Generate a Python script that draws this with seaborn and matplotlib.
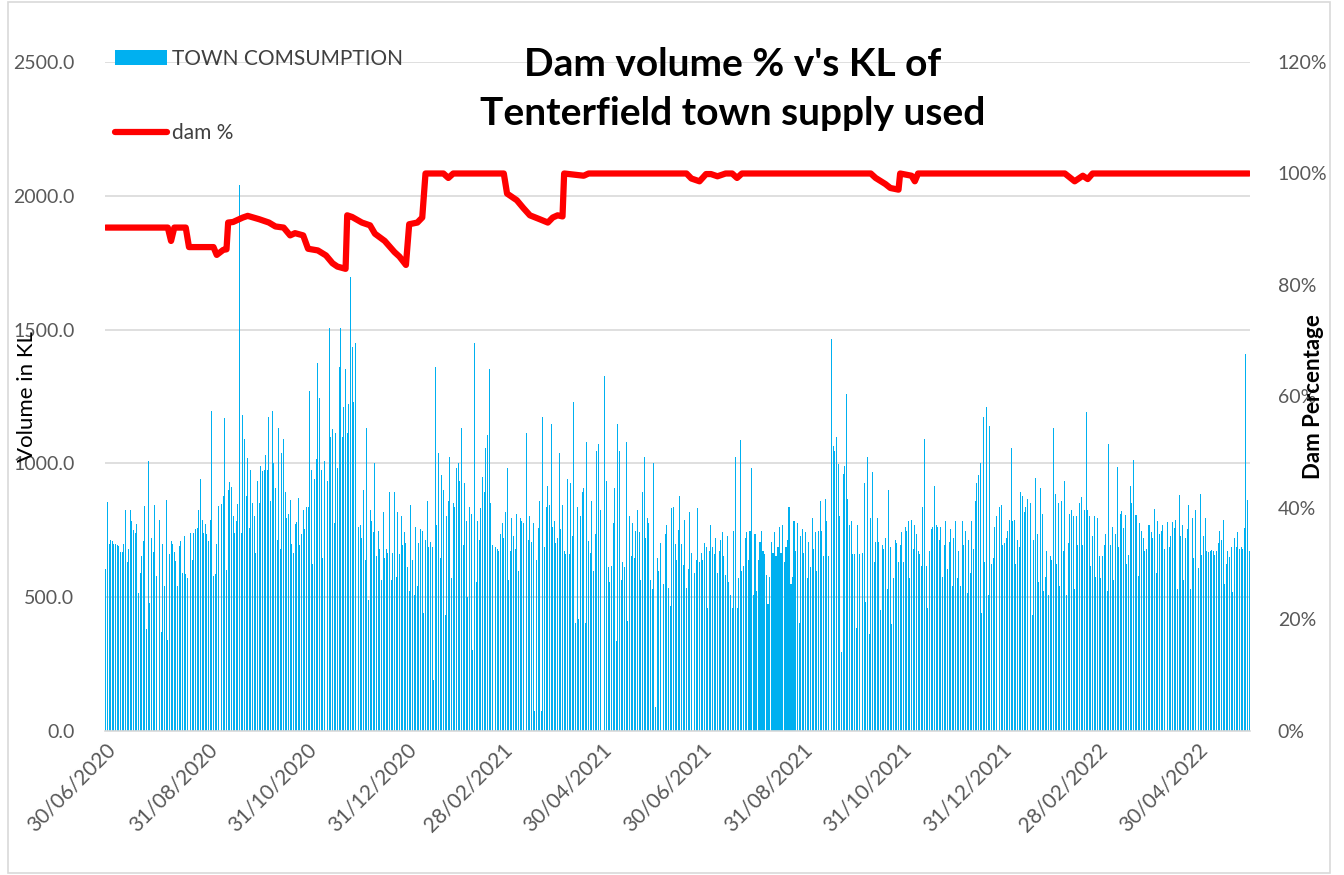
import numpy as np
import pandas as pd
import seaborn as sns
import matplotlib.pyplot as plt
from matplotlib.patches import Rectangle

# =========================
# DATA
# =========================

START_DATE = "30/06/2020"

# Daily town consumption in KL, in blocks of about 89 days each
cons_jul_sep_2020 = [
    605, 855, 700, 715, 710, 700, 700, 695, 690, 670,
    670, 700, 825, 630, 680, 825, 785, 750, 740, 775,
    515, 590, 655, 710, 840, 380, 1010, 480, 720, 670,
    845, 580, 880, 790, 370, 700, 540, 865, 340, 660,
    710, 700, 670, 635, 540, 690, 710, 590, 730, 585,
    570, 740, 740, 640, 740, 755, 760, 825, 940, 790,
    740, 775, 735, 710, 790, 1195, 580, 585, 700, 840,
    890, 850, 880, 1170, 600, 900, 930, 910, 805, 740,
    785, 850, 2040, 740, 1180, 1090, 880, 1020, 760,
]
cons_sep_dec_2020 = [
    976, 852, 805, 667, 935, 852, 990, 970, 976, 1031,
    976, 1175, 860, 1196, 1003, 907, 715, 1134, 680, 1038,
    1093, 893, 797, 810, 865, 700, 665, 775, 782, 871,
    694, 735, 825, 756, 838, 838, 1271, 976, 625, 942,
    1018, 1375, 1244, 976, 646, 1010, 997, 935, 1505, 1100,
    1127, 777, 1114, 983, 1361, 1505, 1100, 1210, 1354, 1114,
    1223, 1698, 1436, 1230, 1450, 893, 763, 770, 722, 900,
    640, 1134, 488, 825, 783, 742, 1003, 653, 749, 680,
    563, 818, 646, 680, 667, 893, 563, 667, 893,
]
cons_dec_2020_mar_2021 = [
    577, 818, 660, 804, 694, 742, 701, 612, 522, 845,
    639, 509, 763, 543, 701, 756, 749, 440, 715, 859,
    687, 708, 687, 192, 1361, 770, 1038, 646, 955, 900,
    433, 804, 859, 1024, 570, 852, 838, 983, 1003, 935,
    1134, 694, 928, 784, 502, 838, 811, 302, 1450, 557,
    784, 715, 832, 948, 893, 1058, 1107, 1354, 852, 694,
    646, 687, 680, 673, 735, 777, 722, 818, 983, 564,
    673, 797, 729, 680, 811, 598, 797, 784, 777, 371,
    1113, 715, 804, 708, 777, 76, 640, 760, 860,
]
cons_mar_jun_2021 = [
    76, 1175, 687, 838, 914, 845, 1148, 763, 784, 701,
    722, 1038, 756, 845, 673, 660, 942, 660, 928, 729,
    1230, 405, 838, 419, 804, 893, 907, 405, 1079, 709,
    667, 859, 598, 735, 1045, 1072, 825, 0, 0, 1327,
    935, 612, 557, 618, 777, 907, 337, 1148, 1045, 564,
    632, 612, 1079, 412, 804, 653, 777, 646, 749, 825,
    742, 564, 893, 1024, 722, 797, 777, 564, 529, 1003,
    89, 646, 598, 701, 694, 550, 735, 770, 536, 467,
    832, 838, 700, 640, 750, 880, 700, 620, 790,
]
cons_jun_sep_2021 = [
    536, 605, 818, 667, 474, 591, 639, 832, 632, 667,
    639, 701, 687, 460, 673, 770, 687, 660, 722, 591,
    673, 715, 742, 653, 584, 729, 557, 509, 460, 749,
    1024, 460, 570, 1086, 598, 618, 722, 742, 639, 749,
    983, 509, 735, 522, 639, 708, 749, 673, 660, 584,
    474, 577, 708, 667, 742, 653, 687, 763, 667, 770,
    632, 687, 715, 838, 550, 577, 784, 673, 777, 405,
    729, 756, 667, 742, 570, 708, 612, 797, 680, 742,
    598, 749, 859, 749, 653, 866, 784, 653, 708,
]
cons_sep_dec_2021 = [
    1464, 1065, 1045, 1100, 997, 804, 296, 962, 990, 1258,
    866, 770, 784, 660, 660, 385, 770, 660, 1052, 667,
    928, 481, 1024, 364, 797, 969, 632, 708, 797, 708,
    454, 694, 680, 722, 529, 900, 687, 399, 570, 715,
    701, 632, 694, 742, 632, 763, 749, 784, 570, 790,
    680, 770, 735, 673, 660, 618, 838, 1093, 618, 460,
    673, 756, 763, 914, 770, 763, 715, 763, 577, 694,
    784, 605, 708, 756, 543, 722, 784, 570, 673, 543,
    784, 694, 749, 515, 715, 591, 784, 680, 859,
]
cons_dec_2021_mar_2022 = [
    928, 955, 1003, 440, 1175, 632, 1210, 509, 1141, 625,
    646, 763, 804, 701, 838, 845, 694, 701, 722, 749,
    790, 1058, 784, 790, 625, 715, 687, 893, 880, 818,
    838, 866, 825, 852, 433, 715, 944, 735, 557, 907,
    811, 522, 577, 673, 509, 653, 639, 1134, 887, 625,
    852, 543, 859, 673, 935, 509, 701, 811, 825, 804,
    529, 804, 694, 852, 873, 694, 825, 1192, 825, 804,
    618, 729, 804, 577, 797, 653, 570, 653, 694, 735,
    522, 1072, 694, 763, 564, 735, 985, 687, 811,
]
cons_mar_jun_2022 = [
    822, 760, 807, 625, 656, 914, 852, 1013, 807, 807,
    580, 777, 749, 722, 673, 680, 770, 770, 742, 722,
    828, 591, 784, 735, 746, 770, 680, 749, 780, 687,
    729, 780, 759, 790, 532, 882, 729, 770, 566, 722,
    756, 845, 529, 797, 646, 825, 746, 608, 886, 656,
    729, 797, 673, 669, 673, 676, 673, 657, 673, 704,
    746, 715, 790, 550, 625, 673, 649, 687, 518, 722,
    687, 745, 680, 687, 680, 760, 1409, 865, 671,
]

# Dam level (%) readings, day offset from START_DATE
dam_days = [
    0, 38, 40, 42, 49, 51, 66, 68, 72, 74,
    75, 78, 84, 87, 94, 100, 104, 109, 113, 116,
    121, 124, 130, 135, 139, 142, 147, 148, 151, 157,
    162, 165, 171, 177, 180, 184, 186, 191, 194, 196,
    207, 210, 213, 244, 246, 252, 256, 260, 266, 271,
    274, 277, 280, 281, 293, 296, 356, 359, 364, 368,
    371, 375, 380, 384, 387, 390, 469, 472, 478, 481,
    486, 487, 494, 496, 498, 588, 594, 599, 602, 605,
    701,
]
dam_pct = [
    90.3, 90.3, 87.9, 90.3, 90.3, 86.8, 86.8, 85.4, 86.3, 86.4,
    91.2, 91.3, 92.1, 92.4, 91.8, 91.2, 90.5, 90.3, 88.9, 89.3,
    88.9, 86.5, 86.2, 85.3, 83.9, 83.3, 82.9, 92.5, 92.2, 91.2,
    90.7, 89.2, 87.9, 85.9, 85.1, 83.6, 90.9, 91.2, 92.1, 100,
    100, 99.2, 100, 100, 96.4, 95.2, 93.8, 92.5, 91.8, 91.2,
    92.1, 92.5, 92.3, 100, 99.6, 100, 100, 99.1, 98.6, 99.9,
    99.9, 99.5, 100, 100, 99.2, 100, 100, 99.2, 98.1, 97.4,
    97.1, 100, 99.6, 98.6, 100, 100, 98.6, 99.6, 99.0, 100,
    100,
]

tick_labels = [
    "30/06/2020", "31/08/2020", "31/10/2020", "31/12/2020",
    "28/02/2021", "30/04/2021", "30/06/2021", "31/08/2021",
    "31/10/2021", "31/12/2021", "28/02/2022", "30/04/2022",
]

# =========================
# BUILD TABLES
# =========================

consumption = (cons_jul_sep_2020 + cons_sep_dec_2020 + cons_dec_2020_mar_2021
               + cons_mar_jun_2021 + cons_jun_sep_2021 + cons_sep_dec_2021
               + cons_dec_2021_mar_2022 + cons_mar_jun_2022)

start = pd.to_datetime(START_DATE, dayfirst=True)
cons_df = pd.DataFrame({"day": range(len(consumption)), "KL": consumption})
dam_df = pd.DataFrame({"day": dam_days, "pct": dam_pct})
tick_days = [(pd.to_datetime(t, dayfirst=True) - start).days for t in tick_labels]

# In Aug 2021 the bars render solid (no gaps) in the original chart
SOLID_DAYS = (394, 424)
solid = cons_df["day"].between(*SOLID_DAYS)

# =========================
# STYLE
# =========================

sns.set_theme(style="white")
plt.rcParams["font.family"] = ["Lato", "DejaVu Sans"]
TEXT_GREY = "#595959"
GRID_GREY = "#D9D9D9"
BAR_BLUE = "#00B0F0"

fig = plt.figure(figsize=(13.44, 8.75), dpi=100)
ax = fig.add_axes([105 / 1344, 1 - 731 / 875, 1145 / 1344, 669 / 875])

# =========================
# BARS: TOWN CONSUMPTION
# =========================

sns.barplot(
    data=cons_df[~solid], x="day", y="KL",
    native_scale=True,
    color=BAR_BLUE,
    saturation=1,
    width=0.6,
    linewidth=0,
    errorbar=None,
    label="TOWN COMSUMPTION",
    ax=ax,
)
sns.barplot(
    data=cons_df[solid], x="day", y="KL",
    native_scale=True,
    color=BAR_BLUE,
    saturation=1,
    width=0.9,
    linewidth=0,
    errorbar=None,
    ax=ax,
)

ax.set_xlim(-0.5, len(consumption) - 0.5)
ax.set_ylim(0, 2500)
ax.set_yticks(np.arange(0, 2501, 500))
ax.set_yticklabels([f"{v:.1f}" for v in np.arange(0, 2501, 500)])
ax.yaxis.grid(True, color=GRID_GREY, linewidth=1.2)
ax.set_axisbelow(True)

ax.set_xticks(tick_days)
ax.set_xticklabels(tick_labels, rotation=45, ha="right", rotation_mode="anchor")
ax.tick_params(axis="both", length=0, colors=TEXT_GREY, labelsize=14)
ax.tick_params(axis="x", pad=6, labelsize=15)
ax.tick_params(axis="y", pad=22)
ax.set_xlabel("")
ax.set_ylabel("Volume in KL", fontsize=16, color="black")
ax.yaxis.set_label_coords(-0.059, 0.5)

for side in ["left", "right", "top"]:
    ax.spines[side].set_visible(False)
ax.spines["bottom"].set_color(GRID_GREY)
ax.spines["bottom"].set_linewidth(1.2)

# =========================
# LINE: DAM %
# =========================

ax2 = ax.twinx()
sns.lineplot(
    data=dam_df, x="day", y="pct",
    color="#FF0000",
    linewidth=4.5,
    label="dam %",
    ax=ax2,
)
ax2.set_ylim(0, 120)
ax2.set_yticks(np.arange(0, 121, 20))
ax2.set_yticklabels([f"{v:.0f}%" for v in np.arange(0, 121, 20)])
ax2.tick_params(axis="y", length=0, colors=TEXT_GREY, labelsize=14, pad=20)
ax2.set_xlabel("")
ax2.set_ylabel("Dam Percentage", fontsize=16, fontweight="bold", color="black")
ax2.yaxis.set_label_coords(1.046, 0.5)
ax2.grid(False)
for side in ["left", "right", "top", "bottom"]:
    ax2.spines[side].set_visible(False)

# =========================
# LEGEND, TITLE, BORDER
# =========================

for a in (ax, ax2):
    if a.get_legend() is not None:
        a.get_legend().remove()

h1, l1 = ax.get_legend_handles_labels()
h2, l2 = ax2.get_legend_handles_labels()
fig.legend(
    h1 + h2, l1 + l2,
    loc="upper left",
    bbox_to_anchor=(96 / 1344, 1 - 30 / 875),
    frameon=False,
    fontsize=15,
    labelcolor="#404040",
    handlelength=2.5,
    handleheight=0.7,
    handletextpad=0.25,
    labelspacing=2.6,
)

fig.text(
    0.545, 1 - 89 / 875,
    "Dam volume % v's KL of\nTenterfield town supply used",
    ha="center", va="center",
    fontsize=28, fontweight="bold", color="black",
    linespacing=1.45,
)

fig.patches.append(Rectangle(
    (8 / 1344, 2 / 875), 1322 / 1344, 871 / 875,
    transform=fig.transFigure, fill=False,
    edgecolor=GRID_GREY, linewidth=1.2,
))

fig.savefig("out.png", dpi=100)
plt.close(fig)
